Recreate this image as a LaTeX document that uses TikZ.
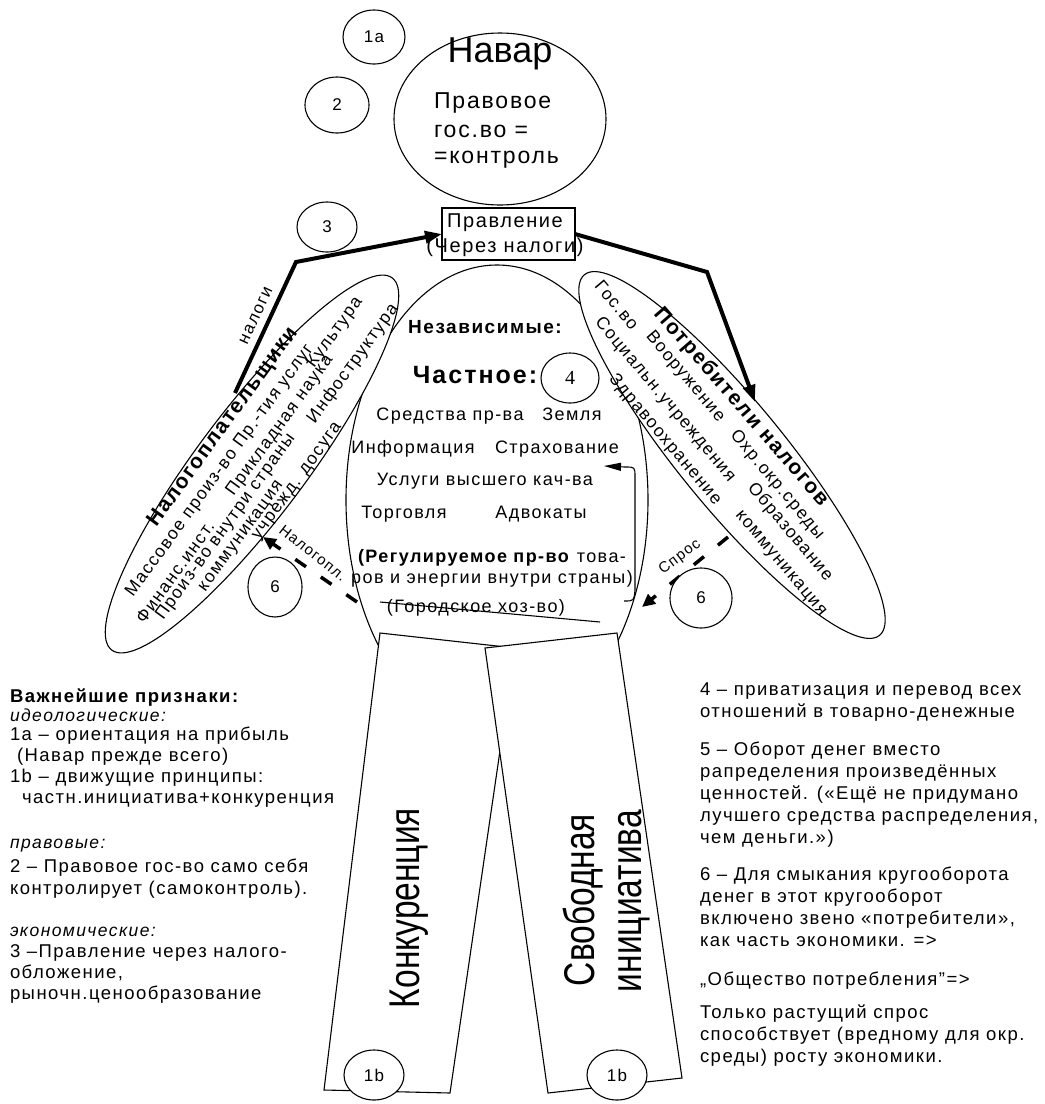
\documentclass[tikz,border=0pt]{standalone}
\usepackage{fontspec}
\setmainfont{Liberation Sans}[LetterSpace=8]
\newfontfamily\plainf{Liberation Sans}
\newfontfamily\narrowf{Liberation Sans}[FakeStretch=0.78]
\newfontfamily\seriff{Liberation Serif}
\usetikzlibrary{shapes.geometric,arrows.meta}
\newcommand\myfs[2]{\fontsize{#1}{#2}\selectfont}
\begin{document}
\begin{tikzpicture}[x=1pt,y=-1pt,
  every node/.style={inner sep=0pt, outer sep=0pt},
  ln/.style={line width=1.1pt},
  oval/.style={draw, ellipse, line width=1.1pt},
  numc/.style={oval, fill=white, font=\myfs{17}{20}},
  bigarrow/.style={line width=4pt, line join=miter, -{Triangle[length=17pt,width=12pt]}},
  dasharrow/.style={line width=3.5pt, dash pattern=on 13pt off 18pt, -{Triangle[length=13pt,width=12pt]}},
  lt/.style={anchor=base west, font=\myfs{18.5}{22}},
  bt/.style={anchor=base, font=\myfs{18}{21}},
  et/.style={font=\myfs{17.5}{20}},
]
\useasboundingbox (0,0) rectangle (1045,1104);

% body
\node[oval, minimum width=302pt, minimum height=470pt] (body) at (497,500) {};

% side ellipses
\node[oval, fill=white, minimum width=466pt, minimum height=108pt, rotate=53] (payers) at (252,464) {};
\node[oval, fill=white, minimum width=466pt, minimum height=106pt, rotate=-50.7] (consumers) at (732,455) {};

% head
\node[oval, fill=white, minimum width=212pt, minimum height=172pt] (navar) at (500,119) {};
\node[anchor=base] (navarT) at (500,62) {\plainf\myfs{36}{40}Навар};
\node[anchor=base west, font=\myfs{23}{27}] (navarA) at (434,108) {Правовое};
\node[anchor=base west, font=\myfs{23}{27}] (navarB) at (434,137) {гос.во =};
\node[anchor=base west, font=\myfs{23}{27}] (navarC) at (434,163) {=контроль};

% government box
\node[draw, line width=1.1pt, minimum width=133pt, minimum height=52pt] (gov) at (508.5,234) {};
\node[anchor=base, font=\myfs{20}{24}] (govA) at (505,227) {Правление};
\node[anchor=base, font=\myfs{20}{24}] (govB) at (505,252) {(Через налоги)};

% numbered circles
\node[numc, minimum width=62pt, minimum height=54pt] (c1a) at (374,37) {1a};
\node[numc, minimum width=64pt, minimum height=56pt] (c2) at (337,105) {2};
\node[numc, minimum width=60pt, minimum height=50pt] (c3) at (327,227) {3};
\node[oval, minimum width=58pt, minimum height=50pt, font=\seriff\myfs{20}{22}] (c4) at (570,378) {4};

% thick arrows
\coordinate (tL0) at (235,393);
\coordinate (tL1) at (296,262);
\draw[bigarrow] (tL0) -- (tL1) -- (gov.west);
\coordinate (tR1) at (707,272);
\coordinate (tR2) at (755,402);
\draw[bigarrow] (gov.east) -- (tR1) -- (tR2);
\node[rotate=65, font=\myfs{17}{20}] (nalogi) at (256,316) {налоги};

% left ellipse texts
\node[rotate=54, font=\bfseries\myfs{21}{24}] (pT) at (223,427) {Налогоплательщики};
\node[rotate=54, et] (p1) at (220,471) {Массовое произ-во Пр.-тия услуг};
\node[rotate=54, et] (p2) at (335,333) {Культура};
\node[rotate=54, et] (p3) at (175,572) {Финанс.инст.};
\node[rotate=54, et] (p4) at (280,426) {Прикладная наука};
\node[rotate=54, et] (p5) at (226,527) {Произ-во внутри страны};
\node[rotate=54, et] (p6) at (353,364) {Инфоструктура};
\node[rotate=54, et] (p7) at (242,537) {коммуникация};
\node[rotate=54, et] (p8) at (298,482) {учрежд. досуга};

% right ellipse texts
\node[rotate=-49, font=\bfseries\myfs{21}{24}] (qT) at (741,407) {Потребители налогов};
\node[rotate=-50, et] (q1) at (617,305) {Гос.во};
\node[rotate=-50, et] (q2) at (685,377) {Вооружение};
\node[rotate=-50, et] (q3) at (777,485) {Охр.окр.среды};
\node[rotate=-50, et] (q4) at (665,400) {Социальн.учреждения};
\node[rotate=-50, et] (q5) at (790,532) {Образование};
\node[rotate=-50, et] (q6) at (665,440) {Здравоохранение};
\node[rotate=-50, et] (q7) at (780,564) {коммуникация};

% body texts
\node[anchor=base, font=\bfseries\myfs{19}{22}] (b0) at (485,333) {Независимые:};
\node[anchor=base, font=\bfseries\myfs{25}{28}] (b1) at (475,383) {Частное:};
\node[bt] (b2) at (450,420) {Средства пр-ва};
\node[bt] (b3) at (572,420) {Земля};
\node[bt] (b4) at (413,453) {Информация};
\node[bt] (b5) at (557,453) {Страхование};
\node[bt] (b6) at (485,485) {Услуги высшего кач-ва};
\node[bt] (b7) at (404,518) {Торговля};
\node[bt] (b8) at (541,518) {Адвокаты};
\node[bt] (b9) at (492,562) {\textbf{(Регулируемое пр-во} това-};
\node[bt] (b10) at (492,583) {ров и энергии внутри страны)};
\node[bt] (b11) at (476,612) {(Городское хоз-во)};
\coordinate (sk0) at (380,602);
\coordinate (sk1) at (600,622);
\draw[ln] (sk0) -- (sk1);

% bracket arrow inside body
\coordinate (brS) at (624,601);
\coordinate (brE) at (604,466);
\draw[ln, -{Triangle[length=17pt,width=8pt]}] (brS) .. controls (634,601) .. (635,590) -- (635,477) .. controls (635,467) .. (625,467) -- (brE);

% dashed arrows
\coordinate (dL0) at (357,602);
\coordinate (dL1) at (263,537);
\draw[dasharrow] (dL0) -- (dL1);
\node[rotate=-38, font=\myfs{15}{18}] (nlg) at (313,553) {Налогопл.};
\coordinate (dR0) at (728,537);
\coordinate (dR1) at (642,607);
\draw[dasharrow] (dR0) -- (dR1);
\node[rotate=37, font=\myfs{15}{18}] (spros) at (680,557) {Спрос};
\node[numc, minimum width=54pt, minimum height=60pt] (c6L) at (275,587) {6};
\node[numc, minimum width=62pt, minimum height=60pt] (c6R) at (701,598) {6};

% legs
\draw[ln, fill=white] (380,633) -- (515,648) -- (450,1093) -- (324,1090) -- cycle;
\draw[ln, fill=white] (485,648) -- (617,633) -- (682,1078) -- (548,1093) -- cycle;
\node[rotate=90, anchor=base, font=\narrowf\myfs{43}{48}] (konk) at (419,908) {Конкуренция};
\node[rotate=90, anchor=base, font=\narrowf\myfs{43}{48}] (svob1) at (594,900) {Свободная};
\node[rotate=90, anchor=base, font=\narrowf\myfs{43}{48}] (svob2) at (641,901) {инициатива};
\node[numc, minimum width=60pt, minimum height=50pt] (c1bL) at (374,1075) {1b};
\node[numc, minimum width=60pt, minimum height=50pt] (c1bR) at (617,1075) {1b};

% left legend
\node[lt, font=\bfseries\myfs{18.5}{22}] (l1) at (10,702) {Важнейшие признаки:};
\node[lt, font=\itshape\myfs{17.5}{22}] (l2) at (10,721) {идеологические:};
\node[lt] (l3) at (10,740) {1а – ориентация на прибыль};
\node[lt] (l4) at (17,761) {(Навар прежде всего)};
\node[lt] (l5) at (10,782) {1b – движущие принципы:};
\node[lt] (l6) at (22,803) {частн.инициатива+конкуренция};
\node[lt, font=\itshape\myfs{17.5}{22}] (l7) at (10,848) {правовые:};
\node[lt] (l8) at (10,872) {2 – Правовое гос-во само себя};
\node[lt] (l9) at (10,894) {контролирует (самоконтроль).};
\node[lt, font=\itshape\myfs{17.5}{22}] (l10) at (10,936) {экономические:};
\node[lt] (l11) at (10,957) {3 –Правление через налого-};
\node[lt] (l12) at (10,978) {обложение,};
\node[lt] (l13) at (10,999) {рыночн.ценообразование};

% right legend
\node[lt] (r1) at (700,695) {4 – приватизация и перевод всех};
\node[lt] (r2) at (700,717) {отношений в товарно-денежные};
\node[lt] (r3) at (700,755) {5 – Оборот денег вместо};
\node[lt] (r4) at (700,777) {рапределения произведённых};
\node[lt] (r5) at (700,799) {ценностей. («Ещё не придумано};
\node[lt] (r6) at (700,821) {лучшего средства распределения,};
\node[lt] (r7) at (700,843) {чем деньги.»)};
\node[lt] (r8) at (700,880) {6 – Для смыкания кругооборота};
\node[lt] (r9) at (700,902) {денег в этот кругооборот};
\node[lt] (r10) at (700,924) {включено звено «потребители»,};
\node[lt] (r11) at (700,946) {как часть экономики. =>};
\node[lt] (r12) at (700,985) {„Общество потребления"=>};
\node[lt] (r13) at (700,1018) {Только растущий спрос};
\node[lt] (r14) at (700,1040) {способствует (вредному для окр.};
\node[lt] (r15) at (700,1062) {среды) росту экономики.};
\end{tikzpicture}
\end{document}
